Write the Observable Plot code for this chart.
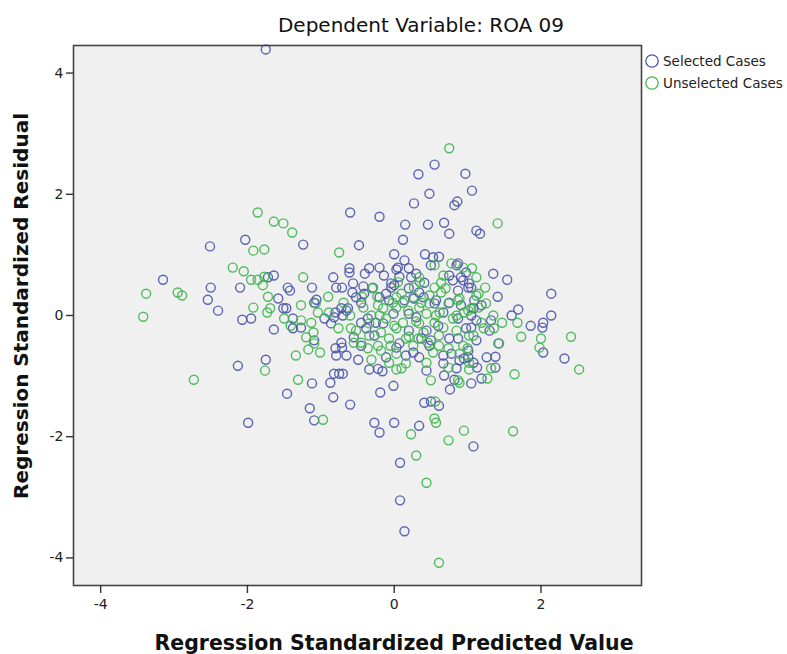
<!DOCTYPE html>
<html>
<head>
<meta charset="utf-8">
<script src="https://cdn.jsdelivr.net/npm/d3@7"></script>
<script src="https://cdn.jsdelivr.net/npm/@observablehq/plot@0.6"></script>
<style>
  html, body { margin: 0; padding: 0; background: #ffffff; }
  #chart { width: 787px; height: 654px; }
</style>
</head>
<body>
<div id="chart"></div>
<script>
// Scatterplot of regression residuals, Dependent Variable: ROA 09
const title = "Dependent Variable: ROA 09";
const xLabel = "Regression Standardized Predicted Value";
const yLabel = "Regression Standardized Residual";
const groups = ["Selected Cases", "Unselected Cases"];
const groupColors = ["#4a55a8", "#3fb64f"];
const xTicks = [-4, -2, 0, 2];
const yTicks = [-4, -2, 0, 2, 4];

// Selected cases: standardized predicted value / standardized residual
const selectedX = [
  -1.75, 0.55, 0.33, 0.97, 0.48, 1.06, 0.27, 0.82, 0.86, 0.15, 0.46, 0.68, 0.75, 1.12, 1.17,
  0.12, 0.00, 0.14, 0.42, 0.53, 0.61, 0.87, 1.35, 1.54, 1.41, 2.14, 0.91, 0.75, 0.41, 0.87,
  1.05, 0.05, -0.04, 0.23, 0.14, 0.55, 0.75, 0.91, 1.32, 2.14, 2.03, 1.86, -0.60, -0.20, -2.51,
  -2.03, -1.24, -0.48, -3.15, -2.50, -2.54, -2.40, -2.10, -2.07, -1.95, -1.72, -1.64, -1.45, -1.42, -1.12,
  -0.83, -0.61, -0.61, -0.34, -0.40, -0.20, -0.79, -0.71, -0.56, -0.42, -0.57, -0.52, -1.06, 0.03, 0.20,
  -0.14, 0.07, 0.30, 0.50, 0.85, 0.98, 0.80, 0.94, 1.01, -0.04, -0.11, 0.20, 0.34, -0.20, 1.02,
  1.69, 1.60, 2.02, 2.03, 2.32, 1.42, 1.26, 1.38, 1.38, 1.19, 1.05, 1.08, 0.76, 0.82, 0.68,
  1.13, 1.08, 1.01, 0.89, 0.44, -0.01, 0.41, 0.50, 0.61, 0.34, 0.00, 0.08, 0.08, 0.14, -1.46,
  -1.12, -0.87, -0.82, -0.75, -0.70, -0.83, -0.60, -1.15, -1.09, -1.99, -0.27, -0.20, -0.19, -0.34, -0.16,
  -0.49, -0.11, -0.65, -0.79, -0.71, -2.13, -1.75, -1.64, -1.58, -1.51, -0.80, -0.72, -1.38, -1.27, -1.09,
  -1.09, -1.47, -1.38, -0.95, -0.82, -0.72, -0.65, -0.55, -0.45, -0.27, -0.45, -0.86, -0.25, -0.22, 0.34,
  0.67, 0.85, 0.95, 0.78, 1.01, 0.07, -0.15, 0.20, 0.75, 0.98, 0.30, 0.67, -0.07, 0.27, 0.57,
  -0.01, 1.19, 1.30, 1.12, 0.48, 0.16, 0.60, 0.87, 0.37, 1.09, 1.08, 1.05, 1.12, 1.05,
  -0.63, -0.70, -0.45, -0.38, 0.44, 0.20, 0.50, 0.87, 0.03, 0.26, 0.67, 0.40, -0.41, -0.29,
  0.00, -0.80, -0.36
];
const selectedY = [
  4.39, 2.49, 2.33, 2.34, 2.01, 2.06, 1.85, 1.82, 1.88, 1.50, 1.50, 1.53, 1.35, 1.40, 1.35,
  1.25, 1.01, 0.91, 1.01, 0.96, 0.97, 0.86, 0.69, 0.59, 0.31, 0.36, 0.63, 0.66, 0.54, 0.41,
  0.46, 0.79, 0.53, 0.63, 0.25, 0.20, 0.21, 0.17, -0.08, 0.00, -0.12, -0.17, 1.70, 1.63, 1.14,
  1.25, 1.17, 1.16, 0.59, 0.46, 0.26, 0.08, 0.46, -0.07, -0.05, 0.63, 0.66, 0.46, 0.41, 0.46,
  0.63, 0.78, 0.71, 0.78, 0.69, 0.79, 0.46, 0.46, 0.53, 0.48, 0.38, 0.30, 0.26, 0.76, 0.78,
  0.66, 0.64, 0.69, 0.83, 0.83, 0.71, 0.58, 0.58, 0.46, 0.46, 0.36, 0.45, 0.38, 0.30, 0.53,
  0.10, 0.00, -0.20, -0.61, -0.71, -0.46, -0.69, -0.68, -0.86, -1.04, -1.12, -2.16, -1.22, -1.06, -0.99,
  -0.86, -0.78, -0.69, -0.74, -0.91, -1.16, -1.44, -1.42, -1.49, -1.82, -1.77, -2.43, -3.05, -3.56, -1.29,
  -1.12, -1.11, -0.96, -0.96, -0.96, -1.35, -1.47, -1.53, -1.73, -1.77, -1.77, -1.93, -1.27, -0.89, -0.92,
  -0.73, -0.69, -0.66, -0.66, -0.53, -0.83, -0.73, -0.23, 0.28, 0.12, -0.54, -0.45, -0.21, -0.20, -0.41,
  0.21, 0.12, -0.05, -0.05, -0.03, 0.12, 0.08, -0.36, 0.21, -0.33, -0.50, -0.13, -0.12, -0.88, -0.69,
  -0.79, -0.87, -0.71, -0.63, -0.58, -0.46, -0.13, -0.25, -0.38, -0.21, -0.03, 0.05, 0.25, 0.28, 0.25,
  0.03, 0.17, -0.25, -0.41, -0.50, -0.66, -0.17, -0.05, -0.38, 0.25, 0.12, 0.00, -0.08, -0.20,
  0.12, 0.00, -0.12, -0.21, -0.25, 0.03, -0.41, -0.38, -0.53, -0.61, -0.66, 0.30, 0.36, 0.46,
  0.50, 0.05, -0.05
];

// Unselected cases
const unselectedX = [
  0.75, 1.41, -1.86, -1.64, -1.51, -1.39, -1.92, -1.77, -0.75, -2.20, -2.05, -1.95, -1.86, -1.77, -3.38,
  -2.95, -2.89, -3.42, -1.79, -1.72, -1.92, -1.69, -1.73, -1.24, -0.90, -0.44, -0.23, -1.76, -2.73, -1.34,
  -1.31, -0.97, -0.31, -0.07, -1.17, -1.01, 0.30, 0.74, 0.44, 0.61, 0.95, 1.62, 0.23, 0.57, 0.55,
  0.56, 0.89, 1.27, 1.64, 1.32, 1.02, 0.50, 0.03, 0.16, 2.52, 2.41, 2.00, 1.98, 1.73, 1.68,
  1.43, 1.06, 1.12, 1.24, 1.12, -1.27, -1.20, -1.09, -1.13, -1.04, -0.76, -0.59, -0.55, -0.42, -0.31,
  -0.34, -1.10, -0.22, 0.55, 0.78, 0.94, 0.67, 0.64, 0.55, 0.34, 0.48, 0.10, 0.27, 0.37, 0.87,
  1.01, 1.19, 1.15, 0.64, -0.18, 0.10, 0.87, 0.03, 0.44, 0.74, 0.53, 0.26, -0.07, -0.18, 0.00,
  0.12, 0.40, 0.61, 0.94, 0.85, 1.08, 0.55, 0.44, 0.80, 0.95, 0.12, 0.48, 0.74, 1.05, -0.15,
  -0.20, 0.19, -1.50, -1.41, 0.30, 0.62, 0.20, -0.05, 0.35, 0.70, 1.25, 0.05, -0.30, -0.60,
  1.15, 1.35, 1.47, 1.36, 1.22, 1.02, 1.02, 1.00, -0.45, -0.34, -0.52, -0.22, -0.36,
  -0.11, 0.03, 0.16, 0.33, 0.46, 0.61, 0.74, 0.89, 0.34, 0.67, 0.03, 0.34, 0.85, 0.57,
  0.03, 0.26, 0.89, -0.02, -1.07, -0.89, -0.69, -1.27
];
const unselectedY = [
  2.76, 1.52, 1.70, 1.55, 1.52, 1.37, 1.07, 1.09, 1.04, 0.79, 0.73, 0.59, 0.59, 0.64, 0.36,
  0.38, 0.33, -0.02, 0.50, 0.31, 0.13, 0.12, 0.05, 0.63, 0.31, 0.31, 0.31, -0.91, -1.06, -0.66,
  -1.06, -1.72, -0.73, -0.78, -0.56, -0.61, -2.31, -2.06, -2.76, -4.08, -1.90, -1.91, -1.96, -1.77, -1.70,
  -1.42, -1.11, -1.04, -0.97, -0.87, -0.89, -1.07, -0.89, -0.79, -0.89, -0.35, -0.38, -0.53, -0.35, -0.12,
  -0.46, 0.78, 0.63, 0.46, 0.33, 0.17, -0.36, -0.46, -0.12, 0.05, -0.21, -0.21, -0.45, 0.13, 0.00,
  -0.13, -0.28, 0.17, 0.83, 0.86, 0.79, 0.66, 0.54, 0.46, 0.63, 0.33, 0.36, 0.46, 0.21, 0.25,
  0.08, -0.12, 0.36, 0.38, -0.58, -0.87, -1.07, -0.63, -0.78, -0.86, -0.61, -0.50, -0.38, -0.28, -0.17,
  -0.12, -0.28, -0.33, -0.50, -0.25, -0.33, -0.12, 0.03, -0.05, 0.05, 0.21, 0.20, 0.20, 0.12, 0.12,
  0.00, 0.08, -0.05, -0.17, -0.10, 0.05, -0.35, -0.50, 0.55, 0.45, 0.20, 0.55, 0.45, 0.00,
  0.13, 0.00, -0.12, -0.21, -0.21, -0.33, -0.78, -0.54, -0.45, -0.33, -0.25, -0.50, -0.54,
  -0.05, -0.21, -0.38, -0.38, -0.45, -0.50, -0.54, -0.63, -0.13, -0.20, 0.13, 0.13, 0.00, 0.00,
  0.30, 0.30, 0.28, 0.21, 0.20, 0.05, 0.21, -0.08
];

const points = [
  ...selectedX.map((x, i) => ({x, y: selectedY[i], group: groups[0]})),
  ...unselectedX.map((x, i) => ({x, y: unselectedY[i], group: groups[1]}))
];

const fmt = d => String(d);

const chart = Plot.plot({
  width: 787,
  height: 654,
  marginLeft: 73,
  marginRight: 146,
  marginTop: 45,
  marginBottom: 69,
  style: {fontFamily: "DejaVu Sans", fontSize: "14px", background: "#ffffff", color: "#222"},
  x: {domain: [-4.37, 3.37], label: null},
  y: {domain: [-4.455, 4.455], label: null},
  color: {domain: groups, range: groupColors},
  marks: [
    Plot.frame({fill: "#f0f0f0"}),
    Plot.dot(points, {x: "x", y: "y", stroke: "group", r: 4.5, strokeWidth: 1.4, strokeOpacity: 0.9}),
    Plot.frame({stroke: "#444", strokeWidth: 1.6}),
    Plot.axisX({ticks: xTicks, tickFormat: fmt, tickSize: 8, tickPadding: 6, label: null, stroke: "#333", strokeWidth: 1.4}),
    Plot.axisY({ticks: yTicks, tickFormat: fmt, tickSize: 7, tickPadding: 3, label: null, stroke: "#333", strokeWidth: 1.4})
  ]
});

document.getElementById("chart").appendChild(chart);

// Title, axis titles and legend
const svg = d3.select(chart);
svg.append("text")
  .attr("x", 421).attr("y", 32)
  .attr("text-anchor", "middle")
  .attr("font-family", "DejaVu Sans")
  .attr("font-size", 20)
  .attr("fill", "#111")
  .text(title);

svg.append("text")
  .attr("x", 394).attr("y", 650)
  .attr("text-anchor", "middle")
  .attr("font-family", "DejaVu Sans")
  .attr("font-weight", "bold")
  .attr("font-size", 20.5)
  .attr("fill", "#111")
  .text(xLabel);

svg.append("text")
  .attr("transform", "translate(28,306) rotate(-90)")
  .attr("text-anchor", "middle")
  .attr("font-family", "DejaVu Sans")
  .attr("font-weight", "bold")
  .attr("font-size", 20)
  .attr("fill", "#111")
  .text(yLabel);

const legend = svg.append("g").attr("transform", "translate(652,61)");
groups.forEach((g, i) => {
  const row = legend.append("g").attr("transform", `translate(0,${i * 22})`);
  row.append("circle").attr("r", 6.2).attr("fill", "none")
    .attr("stroke", groupColors[i]).attr("stroke-width", 1.3);
  row.append("text").attr("x", 11).attr("y", 5)
    .attr("text-anchor", "start")
    .attr("font-family", "DejaVu Sans").attr("font-size", 13.5)
    .attr("fill", "#222").text(g);
});
</script>
</body>
</html>
